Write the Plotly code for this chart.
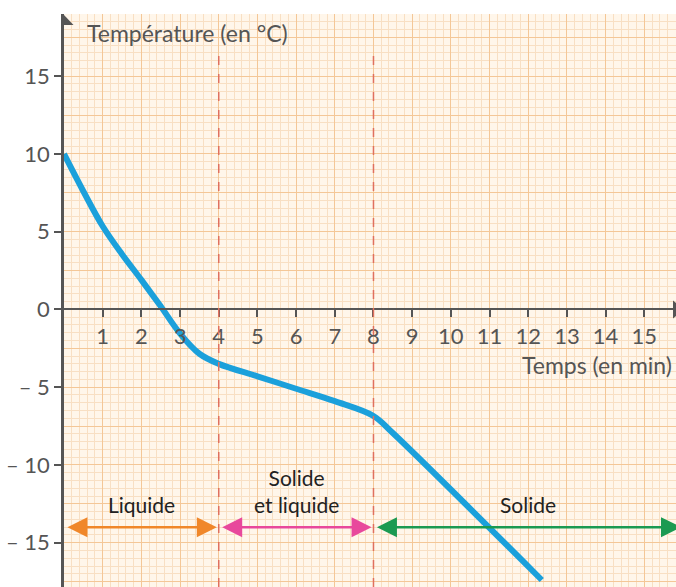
import plotly.graph_objects as go

# ---- data ----
time_min = [0, 0.5, 1, 1.5, 2, 2.5, 3, 3.5, 4, 5, 6, 7, 8, 8.5, 12.35]
temp_c = [10, 7.6, 5.35, 3.55, 1.9, 0.2, -1.55, -2.85, -3.5, -4.3, -5.1, -5.9, -6.85, -7.95, -17.4]

phase_names = ["Liquide", "Solide<br>et liquide", "Solide"]
phase_start = [0, 4, 8]
phase_end = [4, 8, 16]
phase_colors = ["#f0872a", "#e8489c", "#1b9a52"]
phase_arrow_y = -14
phase_label_x = [2, 6, 12]
phase_label_y = [-12.55, -11.7, -12.55]

change_times = [4, 8]

x_tickvals = list(range(1, 16))
x_ticktext = [str(v) for v in x_tickvals]
y_tickvals = [15, 10, 5, 0, -5, -10, -15]
y_ticktext = ["15", "10", "5", "0", "– 5", "– 10", "– 15"]

x_title = "Temps (en min)"
y_title = "Température (en °C)"

# ---- layout constants ----
XMIN, XMAX = 0, 15.82
YMIN, YMAX = -17.85, 19.0
AXIS_COLOR = "#555555"
FONT = "Lato"
BG = "#fff6ea"
MAJOR_GRID = "#f4c797"
MINOR_GRID = "#f8dfc3"

fig = go.Figure()

fig.add_trace(go.Scatter(
    x=time_min, y=temp_c, mode="lines",
    line=dict(color="#1ba0db", width=6, shape="spline", smoothing=1.0),
    showlegend=False, hoverinfo="skip", cliponaxis=True,
))

# dummy trace for overlay y axis
fig.add_trace(go.Scatter(x=[None], y=[None], yaxis="y2", showlegend=False, hoverinfo="skip"))

shapes = []
for t in change_times:
    shapes.append(dict(type="line", xref="x", yref="y", x0=t, x1=t, y0=YMIN, y1=16.5,
                       line=dict(color="#e0705e", width=1.5, dash="dash"), layer="above"))
# y axis arrowhead
shapes.append(dict(type="path", xref="x", yref="y", xsizemode="pixel", ysizemode="pixel",
                   xanchor=0, yanchor=YMAX, path="M -9.5 -11 L 9.5 -11 L 0 -1 Z",
                   fillcolor=AXIS_COLOR, line=dict(width=0), layer="above"))
# x axis arrowhead (cut at the edge)
shapes.append(dict(type="path", xref="x", yref="y", xsizemode="pixel", ysizemode="pixel",
                   xanchor=XMAX, yanchor=0, path="M -3 -9 L -3 9 L 8 0 Z",
                   fillcolor=AXIS_COLOR, line=dict(width=0), layer="above"))

annotations = []
inset = 0.05
for name, s, e, c, lx, ly in zip(phase_names, phase_start, phase_end, phase_colors,
                                  phase_label_x, phase_label_y):
    annotations.append(dict(x=e - inset, y=phase_arrow_y, ax=s + inset, ay=phase_arrow_y,
                            xref="x", yref="y", axref="x", ayref="y", text="",
                            showarrow=True, arrowhead=2, startarrowhead=2,
                            arrowside="end+start", arrowsize=1.6, startarrowsize=1.6,
                            arrowwidth=2.5, arrowcolor=c, standoff=0, startstandoff=0))
    annotations.append(dict(x=lx, y=ly, xref="x", yref="y", text=name, showarrow=False,
                            font=dict(family=FONT, size=21, color="#222222"),
                            align="center", yanchor="middle"))

annotations.append(dict(x=0.53, y=17.75, xref="x", yref="y", text=y_title, showarrow=False,
                        xanchor="left", yanchor="middle",
                        font=dict(family=FONT, size=23, color=AXIS_COLOR)))
annotations.append(dict(x=11.78, y=-3.6, xref="x", yref="y", text=x_title, showarrow=False,
                        xanchor="left", yanchor="middle",
                        font=dict(family=FONT, size=23, color=AXIS_COLOR)))

xpos = (0 - YMIN) / (YMAX - YMIN)

fig.update_layout(
    width=676, height=587,
    margin=dict(l=64, r=0, t=14, b=0, pad=0),
    paper_bgcolor="white", plot_bgcolor=BG,
    font=dict(family=FONT, color=AXIS_COLOR),
    shapes=shapes, annotations=annotations,
    hovermode=False,
    xaxis=dict(range=[XMIN, XMAX], anchor="free", position=xpos,
               tickmode="array", tickvals=x_tickvals, ticktext=x_ticktext,
               ticks="outside", ticklen=7, tickwidth=2, tickcolor=AXIS_COLOR,
               tickfont=dict(family=FONT, size=22, color=AXIS_COLOR),
               showline=True, linecolor=AXIS_COLOR, linewidth=2,
               showgrid=True, gridcolor=MAJOR_GRID, gridwidth=1.2, zeroline=False,
               minor=dict(dtick=0.2, tick0=0, showgrid=True, gridcolor=MINOR_GRID, gridwidth=1),
               fixedrange=True),
    yaxis=dict(range=[YMIN, YMAX], tickmode="linear", tick0=0, dtick=2.5,
               showticklabels=False, ticks="", showline=False, zeroline=False,
               showgrid=True, gridcolor=MAJOR_GRID, gridwidth=1.2,
               minor=dict(dtick=0.5, tick0=0, showgrid=True, gridcolor=MINOR_GRID, gridwidth=1),
               fixedrange=True),
    yaxis2=dict(range=[YMIN, YMAX], overlaying="y", anchor="x", side="left",
                tickmode="array", tickvals=y_tickvals, ticktext=y_ticktext,
                ticks="outside", ticklen=7, tickwidth=2, tickcolor=AXIS_COLOR,
                tickfont=dict(family=FONT, size=22, color=AXIS_COLOR),
                showline=True, linecolor=AXIS_COLOR, linewidth=2.5,
                showgrid=False, zeroline=False, fixedrange=True),
)

fig.write_html(
    "out.html",
    config={"displayModeBar": False},
    post_script="document.body.style.margin='0';document.documentElement.style.overflow='hidden';",
)
